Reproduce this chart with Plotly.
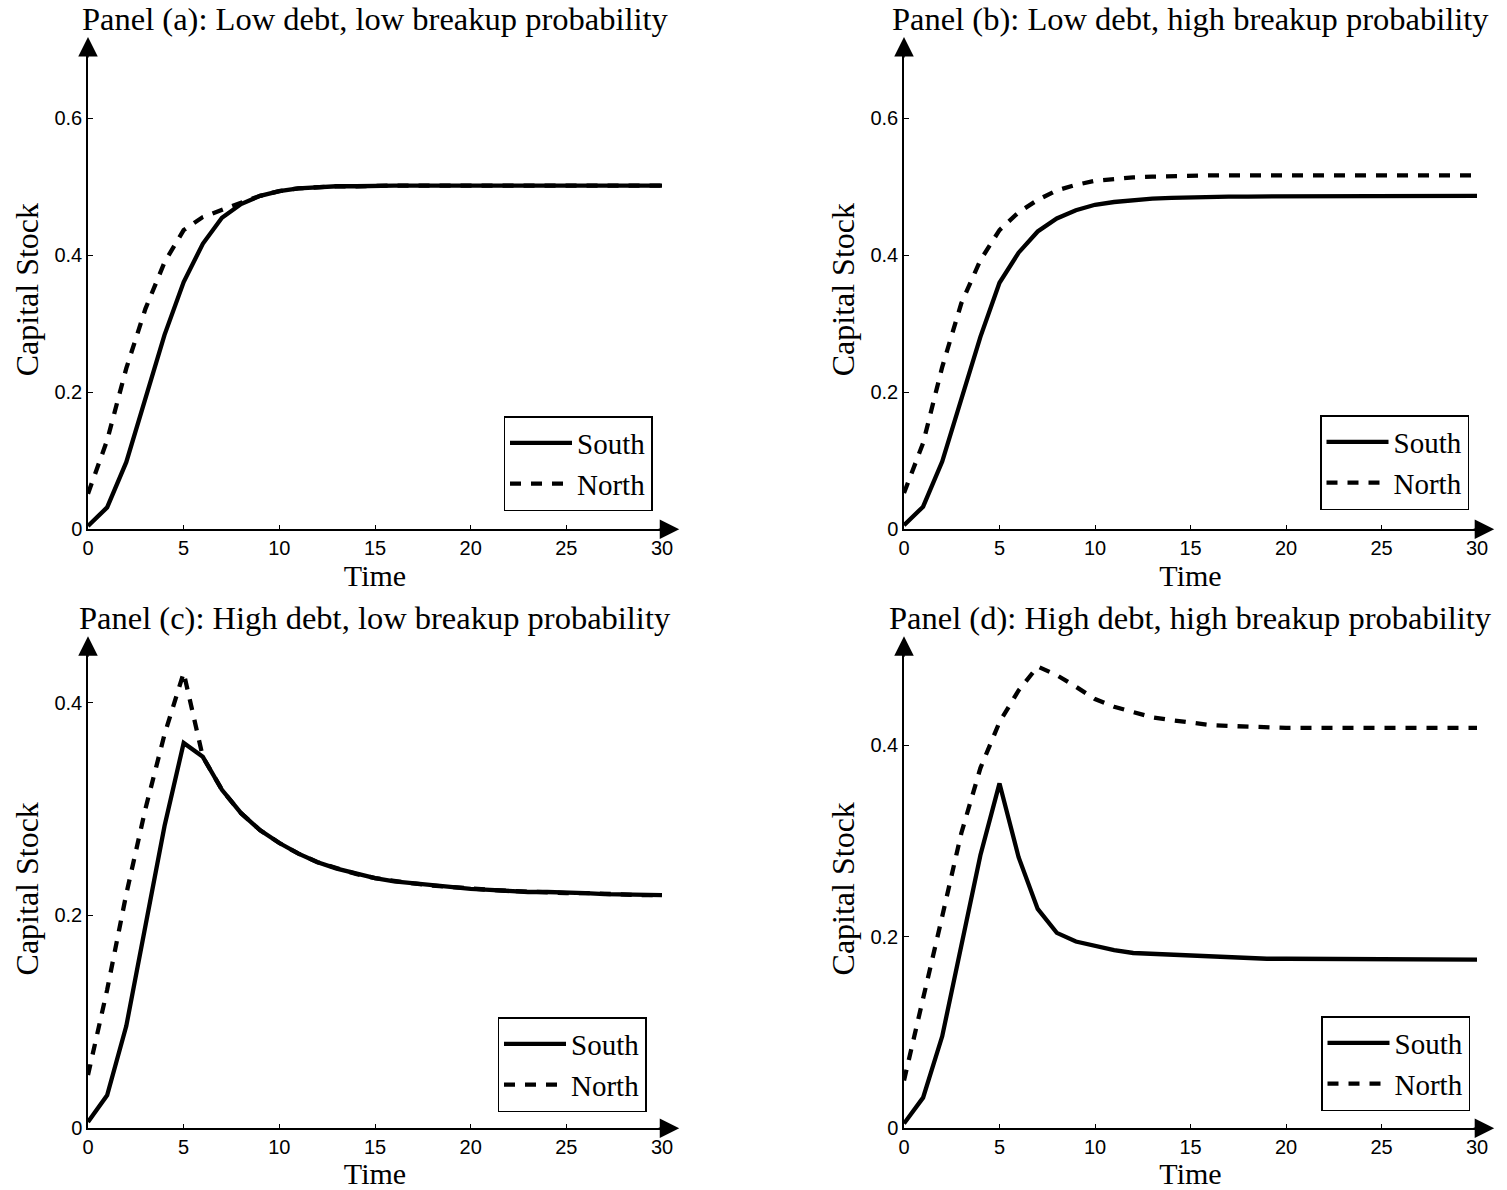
import plotly.graph_objects as go

# ---------------- data ----------------
time = list(range(31))

south_a = [0.005, 0.032, 0.098, 0.189, 0.284, 0.361, 0.417, 0.455, 0.475, 0.487,
           0.494, 0.498, 0.500, 0.501, 0.501, 0.502, 0.502, 0.502, 0.502, 0.502,
           0.502, 0.502, 0.502, 0.502, 0.502, 0.502, 0.502, 0.502, 0.502, 0.502, 0.502]
north_a = [0.052, 0.130, 0.235, 0.322, 0.390, 0.437, 0.456, 0.467, 0.477, 0.487,
           0.494, 0.498, 0.500, 0.501, 0.501, 0.502, 0.502, 0.502, 0.502, 0.502,
           0.502, 0.502, 0.502, 0.502, 0.502, 0.502, 0.502, 0.502, 0.502, 0.502, 0.502]

south_b = [0.006, 0.033, 0.099, 0.189, 0.281, 0.360, 0.404, 0.435, 0.454, 0.466,
           0.474, 0.478, 0.481, 0.483, 0.484, 0.485, 0.485, 0.486, 0.486, 0.486,
           0.486, 0.486, 0.487, 0.487, 0.487, 0.487, 0.487, 0.487, 0.487, 0.487, 0.487]
north_b = [0.053, 0.126, 0.237, 0.330, 0.393, 0.437, 0.463, 0.481, 0.495, 0.503,
           0.509, 0.512, 0.514, 0.515, 0.516, 0.516, 0.517, 0.517, 0.517, 0.517,
           0.517, 0.517, 0.517, 0.517, 0.517, 0.517, 0.517, 0.517, 0.517, 0.517, 0.517]

south_c = [0.006, 0.031, 0.096, 0.190, 0.284, 0.362, 0.349, 0.318, 0.296, 0.280,
           0.268, 0.258, 0.250, 0.244, 0.239, 0.235, 0.232, 0.230, 0.228, 0.227,
           0.225, 0.224, 0.223, 0.222, 0.222, 0.221, 0.221, 0.220, 0.220, 0.219, 0.219]
north_c = [0.050, 0.130, 0.220, 0.300, 0.370, 0.428, 0.349, 0.318, 0.296, 0.280,
           0.268, 0.258, 0.250, 0.244, 0.239, 0.235, 0.232, 0.230, 0.228, 0.227,
           0.225, 0.224, 0.223, 0.222, 0.222, 0.221, 0.221, 0.220, 0.220, 0.219, 0.219]

south_d = [0.005, 0.032, 0.096, 0.190, 0.285, 0.360, 0.283, 0.229, 0.204, 0.195,
           0.190, 0.186, 0.183, 0.182, 0.181, 0.180, 0.179, 0.178, 0.178, 0.177,
           0.177, 0.177, 0.176, 0.176, 0.176, 0.176, 0.176, 0.176, 0.176, 0.176, 0.176]
north_d = [0.050, 0.134, 0.221, 0.308, 0.376, 0.424, 0.457, 0.482, 0.473, 0.461,
           0.448, 0.440, 0.434, 0.429, 0.426, 0.423, 0.421, 0.420, 0.419, 0.419,
           0.418, 0.418, 0.418, 0.418, 0.418, 0.418, 0.418, 0.418, 0.418, 0.418, 0.418]

panel_titles = ["Panel (a): Low debt, low breakup probability",
                "Panel (b): Low debt, high breakup probability",
                "Panel (c): High debt, low breakup probability",
                "Panel (d): High debt, high breakup probability"]
y_max = [0.7, 0.7, 0.45, 0.5]
y_ticks = [[0, 0.2, 0.4, 0.6], [0, 0.2, 0.4, 0.6], [0, 0.2, 0.4], [0, 0.2, 0.4]]
x_ticks = [0, 5, 10, 15, 20, 25, 30]
series_names = ["South", "North"]

# ---------------- layout geometry ----------------
W, H = 1507, 1190
SERIF = "Liberation Serif"
SANS = "Liberation Sans"

def px_x(p):
    return p / W

def px_y(p):
    return (H - p) / H

x_domains = [[px_x(88), px_x(662)], [px_x(904), px_x(1477)],
             [px_x(88), px_x(662)], [px_x(904), px_x(1477)]]
y_domains = [[px_y(529.3), px_y(50)], [px_y(529.3), px_y(50)],
             [px_y(1128.3), px_y(649.3)], [px_y(1128.3), px_y(649.3)]]
title_y_px = [19, 19, 618, 618]
legend_pos = [(px_x(652.5), px_y(511)), (px_x(1469), px_y(510)),
              (px_x(646.5), px_y(1112)), (px_x(1470), px_y(1111))]

fig = go.Figure()

data = [(south_a, north_a), (south_b, north_b), (south_c, north_c), (south_d, north_d)]
legend_ids = ["legend", "legend2", "legend3", "legend4"]

annotations = []
layout_extra = {}
for i, (s, n) in enumerate(data):
    xa = "x" if i == 0 else f"x{i+1}"
    ya = "y" if i == 0 else f"y{i+1}"
    fig.add_trace(go.Scatter(x=time, y=s, mode="lines", name=series_names[0],
                             line=dict(color="black", width=4.3),
                             xaxis=xa, yaxis=ya, legend=legend_ids[i]))
    fig.add_trace(go.Scatter(x=time, y=n, mode="lines", name=series_names[1],
                             line=dict(color="black", width=4.3, dash="11px,10px"),
                             xaxis=xa, yaxis=ya, legend=legend_ids[i]))

    xkey = "xaxis" if i == 0 else f"xaxis{i+1}"
    ykey = "yaxis" if i == 0 else f"yaxis{i+1}"
    layout_extra[xkey] = dict(
        domain=x_domains[i], anchor=ya, range=[0, 30], automargin=False,
        tickmode="array", tickvals=x_ticks, ticktext=[str(v) for v in x_ticks],
        ticks="inside", ticklen=5, tickwidth=1, tickcolor="black",
        showline=True, linecolor="black", linewidth=1.5,
        showgrid=False, zeroline=False,
        tickfont=dict(family=SANS, size=20, color="black"),
        title=dict(text="Time", font=dict(family=SERIF, size=30, color="black"),
                   standoff=3),
    )
    layout_extra[ykey] = dict(
        domain=y_domains[i], anchor=xa, range=[0, y_max[i]], automargin=False,
        tickmode="array", tickvals=y_ticks[i],
        ticktext=["0" if v == 0 else f"{v:.1f}" for v in y_ticks[i]],
        ticks="inside", ticklen=5, tickwidth=1, tickcolor="black",
        showline=True, linecolor="black", linewidth=1.5,
        showgrid=False, zeroline=False,
        tickfont=dict(family=SANS, size=20, color="black"),
        title=dict(text="Capital Stock", font=dict(family=SERIF, size=32, color="black"),
                   standoff=6),
    )
    lx, ly = legend_pos[i]
    layout_extra[legend_ids[i]] = dict(
        x=lx, y=ly, xanchor="right", yanchor="bottom",
        bgcolor="white", bordercolor="black", borderwidth=1.5,
        font=dict(family=SERIF, size=29, color="black"),
        itemwidth=62, tracegroupgap=0,
    )
    # panel title
    annotations.append(dict(
        text=panel_titles[i], xref="paper", yref="paper",
        x=(x_domains[i][0] + x_domains[i][1]) / 2, y=px_y(title_y_px[i]),
        xanchor="center", yanchor="middle", showarrow=False,
        font=dict(family=SERIF, size=32.5, color="black")))
    # axis arrowheads
    annotations.append(dict(
        text="", xref=f"{xa} domain", yref=f"{ya} domain", x=1.03, y=0,
        ax=-22, ay=0, showarrow=True, arrowhead=2, arrowsize=2.6,
        arrowwidth=1.5, arrowcolor="black", standoff=0))
    annotations.append(dict(
        text="", xref=f"{xa} domain", yref=f"{ya} domain", x=0, y=1.027,
        ax=0, ay=22, showarrow=True, arrowhead=2, arrowsize=2.6,
        arrowwidth=1.5, arrowcolor="black", standoff=0))

fig.update_layout(
    template="none",
    width=W, height=H,
    margin=dict(l=0, r=0, t=0, b=0),
    paper_bgcolor="white", plot_bgcolor="white",
    showlegend=True,
    annotations=annotations,
    **layout_extra,
)

# remove the browser's default 8px page margin so the figure sits at (0, 0)
fig.write_html("out.html",
               config={"displayModeBar": False},
               post_script="document.body.style.margin='0px';document.body.style.overflow='hidden';")
